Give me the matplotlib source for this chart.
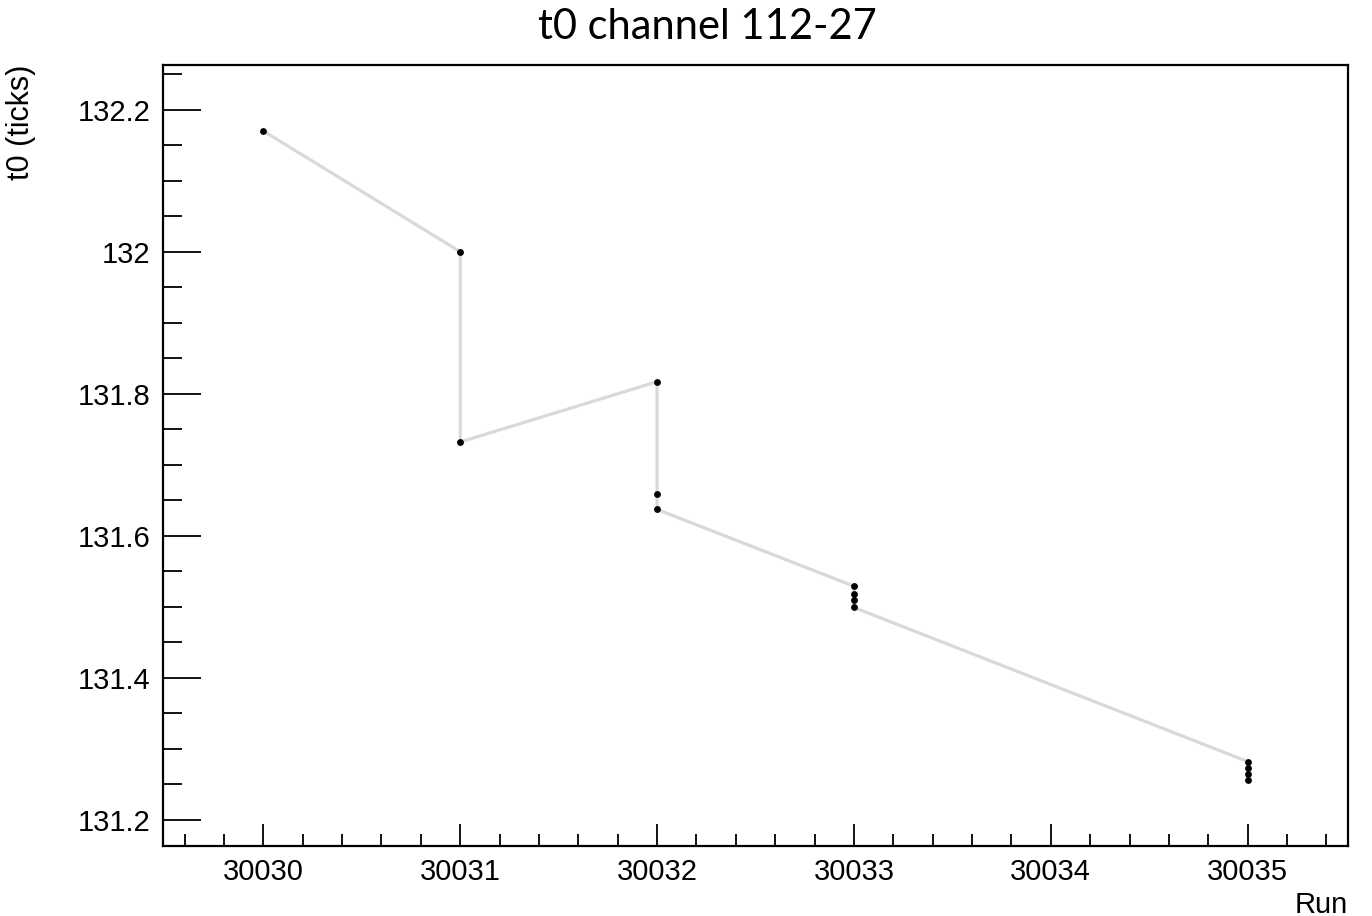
import matplotlib
matplotlib.use("Agg")
import matplotlib.pyplot as plt
from matplotlib.ticker import MultipleLocator, FixedLocator

# t0 calibration per run (several entries for some runs)
runs = [30030, 30031, 30031, 30032, 30032, 30032,
        30033, 30033, 30033, 30033,
        30035, 30035, 30035, 30035]
t0_values = [132.170, 132.000, 131.732, 131.817, 131.659, 131.637,
             131.529, 131.518, 131.510, 131.499,
             131.282, 131.273, 131.265, 131.256]
x_ticks = [30030, 30031, 30032, 30033, 30034, 30035]
y_ticks = [131.2, 131.4, 131.6, 131.8, 132.0, 132.2]
y_tick_labels = ["131.2", "131.4", "131.6", "131.8", "132", "132.2"]

fig = plt.figure(figsize=(13.72, 9.16), dpi=100)
ax = fig.add_axes([163 / 1372, 1 - 846 / 916, (1348 - 163) / 1372, (846 - 65) / 916])

ax.plot(runs, t0_values, color="#d9d9d9", lw=2.3, zorder=1)
ax.plot(runs, t0_values, ls="none", marker="o", ms=3.9, color="black", zorder=2)

ax.set_xlim(30029.49, 30035.51)
ax.set_ylim(131.163, 132.263)

ax.xaxis.set_major_locator(FixedLocator(x_ticks))
ax.xaxis.set_minor_locator(MultipleLocator(0.2))
ax.yaxis.set_major_locator(FixedLocator(y_ticks))
ax.yaxis.set_minor_locator(MultipleLocator(0.05))
ax.set_xticklabels([str(v) for v in x_ticks])
ax.set_yticklabels(y_tick_labels)

for lbl in ax.get_xticklabels() + ax.get_yticklabels():
    lbl.set_fontfamily("Liberation Sans")
    lbl.set_fontsize(21)

ax.tick_params(axis="x", which="major", direction="in", length=16, width=1.3,
               pad=9, top=False)
ax.tick_params(axis="x", which="minor", direction="in", length=9, width=1.3, top=False)
ax.tick_params(axis="y", which="major", direction="in", length=27, width=1.3,
               pad=9, right=False)
ax.tick_params(axis="y", which="minor", direction="in", length=14, width=1.3, right=False)

for s in ax.spines.values():
    s.set_linewidth(1.6)

ax.set_xlabel("Run", fontsize=21, family="Liberation Sans", loc="right", labelpad=3)
ax.set_ylabel("t0 (ticks)", fontsize=22, family="Liberation Sans", loc="top", labelpad=30)

fig.text(707 / 1372, 1 - 27 / 916, "t0 channel 112-27", ha="center", va="center",
         fontsize=30, family="Lato")

fig.savefig("out.png", dpi=100, facecolor="white")
